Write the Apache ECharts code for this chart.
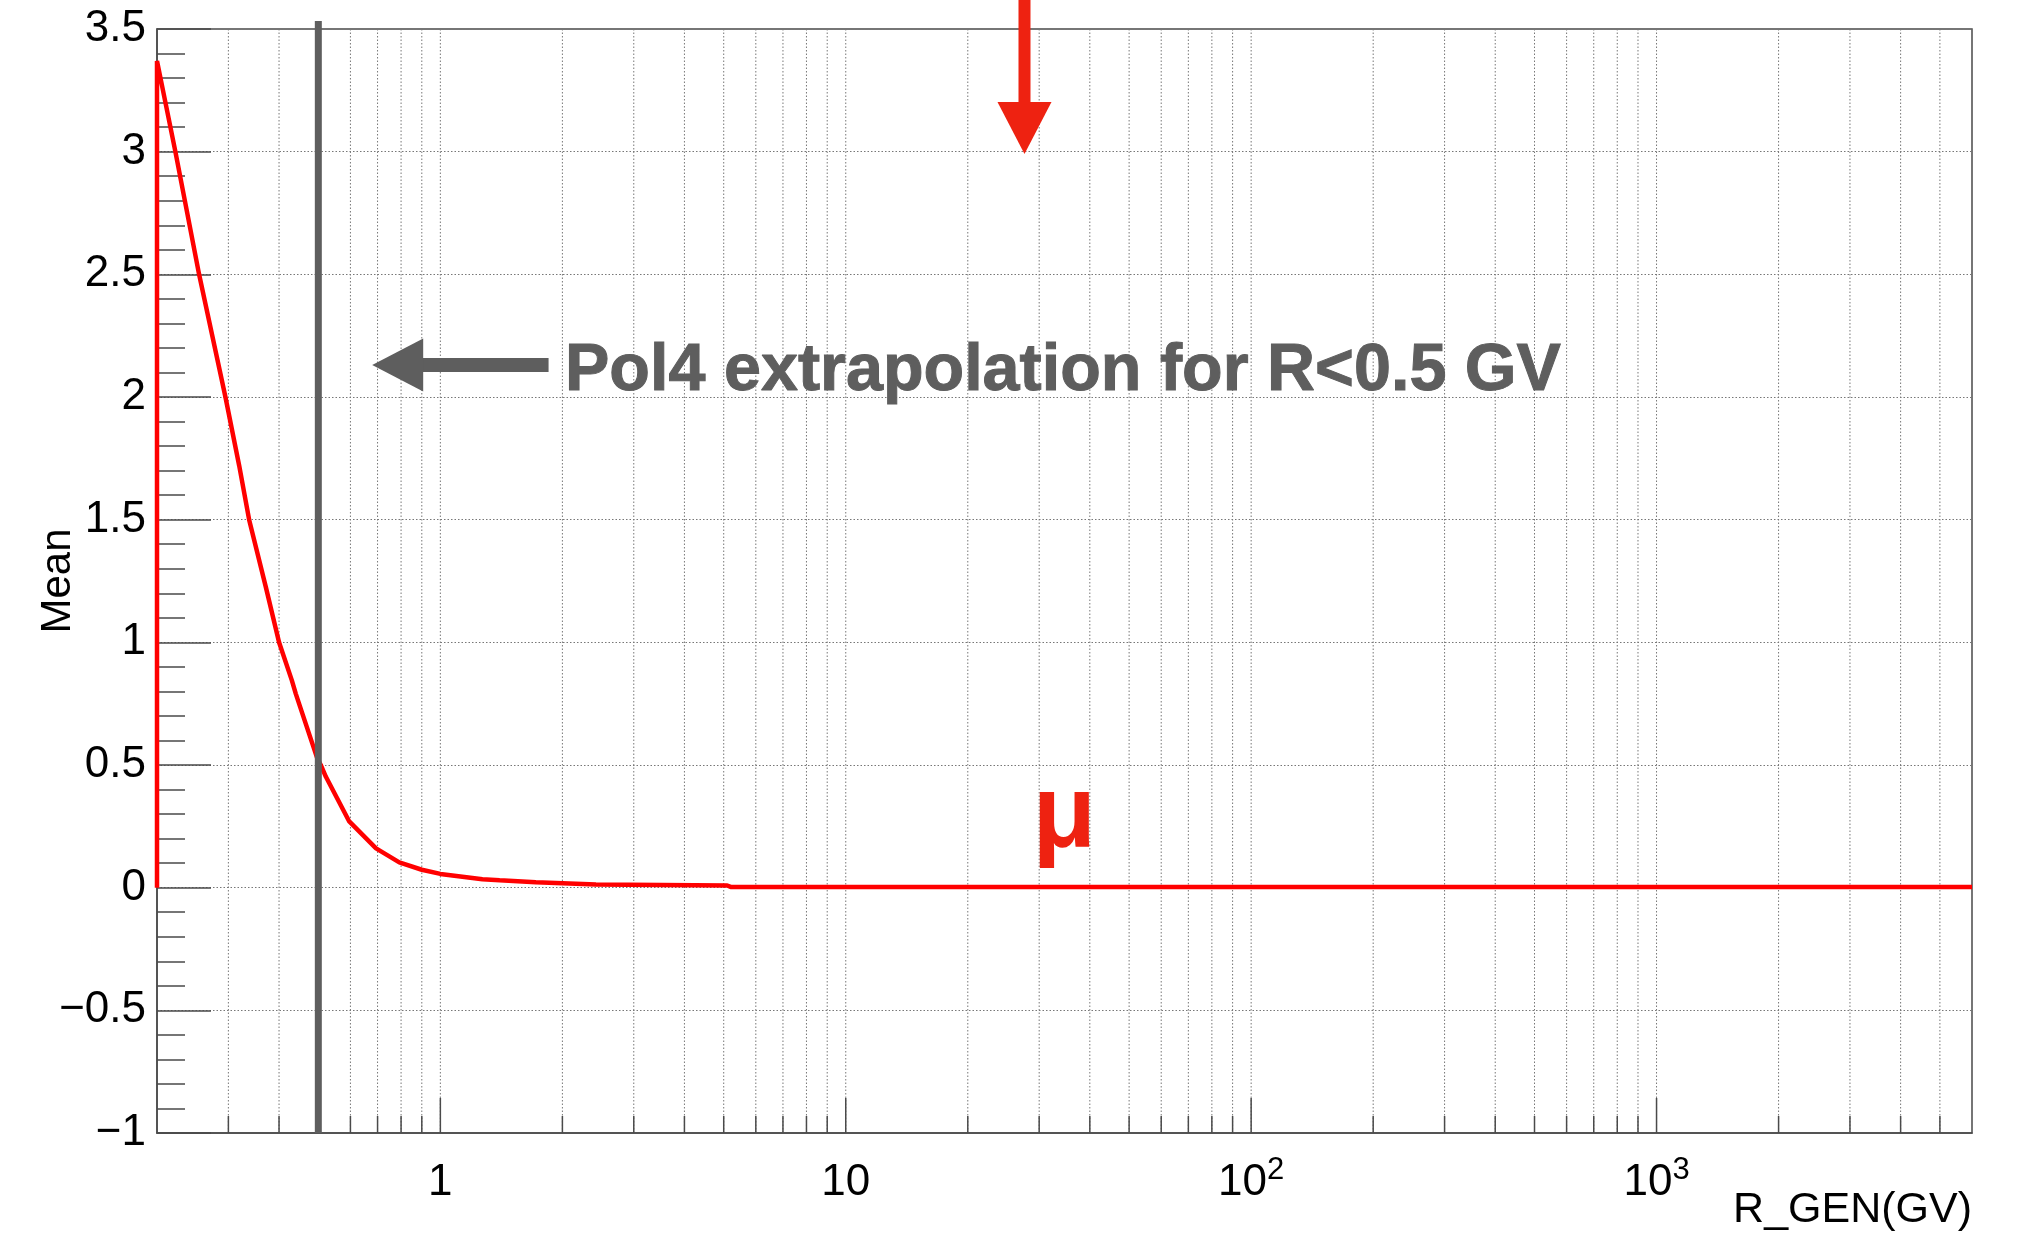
<!DOCTYPE html>
<html>
<head>
<meta charset="utf-8">
<script src="https://cdn.jsdelivr.net/npm/echarts@6/dist/echarts.min.js"></script>
<style>
html, body { margin: 0; padding: 0; background: #fff; }
#chart { width: 2034px; height: 1241px; }
</style>
</head>
<body>
<div id="chart"></div>
<script>
'use strict';

// mean vs generated rigidity
var rGen = [0.2, 0.2, 0.222, 0.254, 0.295, 0.319, 0.3375, 0.371, 0.40, 0.43, 0.44,
    0.497, 0.507, 0.522, 0.596, 0.694, 0.792, 0.9, 1.0, 1.27, 1.4, 1.72, 2.42, 5.1, 5.2, 6000];
var meanVal = [0, 3.37, 3.0, 2.5, 2.0, 1.72, 1.5, 1.226, 1.0, 0.846, 0.79,
    0.527, 0.5, 0.452, 0.27, 0.16, 0.103, 0.073, 0.056, 0.034, 0.030, 0.022, 0.013, 0.009, 0.003, 0.003];

var xLabelTicks = [1, 10, 100, 1000];
var xMinorTicks = [0.3, 0.4, 0.5, 0.6, 0.7, 0.8, 0.9,
    2, 3, 4, 5, 6, 7, 8, 9,
    20, 30, 40, 50, 60, 70, 80, 90,
    200, 300, 400, 500, 600, 700, 800, 900,
    2000, 3000, 4000, 5000];

var xMin = 0.2, xMax = 6000;
var yMin = -1, yMax = 3.5, yStep = 0.5;

// annotations (data units)
var cutR = 0.5, cutLow = -1, cutHigh = 3.533;
var redArrow = { x: 27.6, top: 3.62, tip: 2.99 };
var grayArrow = { tipX: 0.679, tailX: 1.849, y: 2.13 };
var noteText = 'Pol4 extrapolation for R<0.5 GV';
var notePos = [2.03, 2.105];
var muText = 'μ';
var muPos = [28.9, 0.288];

var FONT = '"Liberation Sans", Arial, Helvetica, sans-serif';
var AXIS_COLOR = '#4a4a4a';
var GRID_COLOR = '#777777';
var GRAY = '#5e5e5e';
var RED_ARROW = '#ee2211';

function zip(xs, ys) {
    return xs.map(function(x, i) { return [x, ys[i]]; });
}

function renderXGrid(params, api) {
    var v = api.value(0);
    var major = api.value(1) === 1;
    var bottom = api.coord([v, yMin]);
    var top = api.coord([v, yMax]);
    var tickLen = major ? 35 : 17;
    var children = [{
        type: 'line',
        shape: { x1: bottom[0], y1: bottom[1], x2: top[0], y2: top[1] },
        style: { stroke: GRID_COLOR, lineWidth: 1, lineDash: [1.5, 2] }
    }, {
        type: 'line',
        shape: { x1: bottom[0], y1: bottom[1], x2: bottom[0], y2: bottom[1] - tickLen },
        style: { stroke: AXIS_COLOR, lineWidth: 1.5 }
    }];
    return { type: 'group', children: children };
}

function renderRedArrow(params, api) {
    var tip = api.coord([redArrow.x, redArrow.tip]);
    var top = api.coord([redArrow.x, redArrow.top]);
    var headLen = 52, headHalf = 27, shaft = 12;
    return {
        type: 'group',
        children: [{
            type: 'rect',
            shape: { x: tip[0] - shaft / 2, y: top[1], width: shaft, height: tip[1] - headLen - top[1] + 1 },
            style: { fill: RED_ARROW }
        }, {
            type: 'polygon',
            shape: { points: [[tip[0], tip[1]], [tip[0] - headHalf, tip[1] - headLen], [tip[0] + headHalf, tip[1] - headLen]] },
            style: { fill: RED_ARROW }
        }]
    };
}

function renderGrayArrow(params, api) {
    var tip = api.coord([grayArrow.tipX, grayArrow.y]);
    var tail = api.coord([grayArrow.tailX, grayArrow.y]);
    var headLen = 51, headHalf = 26.5, shaft = 14;
    return {
        type: 'group',
        children: [{
            type: 'rect',
            shape: { x: tip[0] + headLen - 1, y: tip[1] - shaft / 2, width: tail[0] - tip[0] - headLen + 1, height: shaft },
            style: { fill: GRAY }
        }, {
            type: 'polygon',
            shape: { points: [[tip[0], tip[1]], [tip[0] + headLen, tip[1] - headHalf], [tip[0] + headLen, tip[1] + headHalf]] },
            style: { fill: GRAY }
        }]
    };
}

function renderTexts(params, api) {
    var a = api.coord(notePos);
    var b = api.coord(muPos);
    return {
        type: 'group',
        children: [{
            type: 'text',
            x: a[0], y: a[1],
            style: {
                text: noteText, fill: GRAY,
                fontFamily: FONT, fontWeight: 'bold', fontSize: 66.5,
                stroke: GRAY, lineWidth: 1,
                align: 'left', verticalAlign: 'middle'
            }
        }, {
            type: 'text',
            x: b[0], y: b[1],
            style: {
                text: muText, fill: RED_ARROW,
                fontFamily: FONT, fontWeight: 'bold', fontSize: 104,
                align: 'left', verticalAlign: 'middle'
            }
        }]
    };
}

var gridData = xMinorTicks.map(function(v) { return [v, 0]; })
    .concat(xLabelTicks.map(function(v) { return [v, 1]; }));

var chart = echarts.init(document.getElementById('chart'));

var option = {
    backgroundColor: '#fff',
    animation: false,
    title: {
        text: 'R_GEN(GV)',
        right: 62,
        top: 1189,
        padding: 0,
        textStyle: { fontFamily: FONT, fontSize: 43, fontWeight: 'normal', color: '#000' }
    },
    grid: {
        left: 157, right: 62, top: 29, bottom: 108,
        show: true, borderColor: AXIS_COLOR, borderWidth: 1.5
    },
    xAxis: {
        type: 'log',
        logBase: 10,
        min: xMin,
        max: xMax,
        axisLine: { show: true, onZero: false, lineStyle: { color: AXIS_COLOR, width: 1.5 } },
        axisTick: { show: false },
        splitLine: { show: false },
        axisLabel: {
            customValues: xLabelTicks,
            margin: 22,
            color: '#000',
            fontFamily: FONT,
            fontSize: 44,
            lineHeight: 55,
            formatter: function(v) {
                var e = Math.round(Math.log10(v));
                if (e < 2) return String(Math.round(v));
                return '{b|10}{s|' + e + '}';
            },
            rich: {
                b: { fontFamily: FONT, fontSize: 44, lineHeight: 55, color: '#000' },
                s: { fontFamily: FONT, fontSize: 31, lineHeight: 31, color: '#000', verticalAlign: 'top' }
            }
        }
    },
    yAxis: {
        type: 'value',
        min: yMin,
        max: yMax,
        interval: yStep,
        name: 'Mean',
        nameLocation: 'middle',
        nameRotate: 90,
        nameGap: 78,
        nameMoveOverlap: false,
        nameTextStyle: { fontFamily: FONT, fontSize: 42, color: '#000' },
        axisLine: { show: true, lineStyle: { color: AXIS_COLOR, width: 1.5 } },
        axisTick: { show: true, inside: true, length: 54, lineStyle: { color: AXIS_COLOR, width: 1.5 } },
        minorTick: { show: true, splitNumber: 5, length: 28, lineStyle: { color: AXIS_COLOR, width: 1.5 } },
        splitLine: { show: true, lineStyle: { color: GRID_COLOR, width: 1, type: [1.5, 2] } },
        axisLabel: {
            margin: 11,
            color: '#000',
            fontFamily: FONT,
            fontSize: 44,
            formatter: function(v) {
                return v < 0 ? '\u2212' + Math.abs(v) : String(v);
            }
        }
    },
    series: [{
        type: 'custom',
        name: 'xgrid',
        silent: true,
        z: 1,
        clip: false,
        encode: { x: 0, y: 1 },
        data: gridData,
        renderItem: renderXGrid
    }, {
        type: 'line',
        name: 'Mean',
        data: zip(rGen, meanVal),
        showSymbol: false,
        symbol: 'none',
        z: 3,
        lineStyle: { color: '#ff0000', width: 4.5 }
    }, {
        type: 'line',
        name: 'cut',
        data: [[cutR, cutLow], [cutR, cutHigh]],
        clip: false,
        symbol: 'none',
        z: 4,
        lineStyle: { color: GRAY, width: 7, cap: 'butt' }
    }, {
        type: 'custom',
        name: 'redArrow',
        silent: true,
        clip: false,
        z: 5,
        data: [[redArrow.x, redArrow.tip]],
        renderItem: renderRedArrow
    }, {
        type: 'custom',
        name: 'grayArrow',
        silent: true,
        clip: false,
        z: 5,
        data: [[grayArrow.tipX, grayArrow.y]],
        renderItem: renderGrayArrow
    }, {
        type: 'custom',
        name: 'texts',
        silent: true,
        clip: false,
        z: 5,
        data: [notePos],
        renderItem: renderTexts
    }]
};

chart.setOption(option);
</script>
</body>
</html>
